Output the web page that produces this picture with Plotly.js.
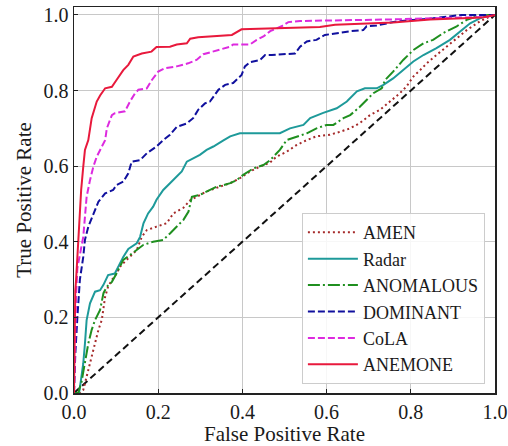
<!DOCTYPE html>
<html>
<head>
<meta charset="utf-8">
<script src="https://cdn.plot.ly/plotly-3.0.1.min.js"></script>
<style>html,body{margin:0;padding:0;background:#fff;}#chart{width:508px;height:446px;}</style>
</head>
<body>
<div id="chart"></div>
<script>
const seriesNames = ["AMEN", "Radar", "ANOMALOUS", "DOMINANT", "CoLA", "ANEMONE"];

const amenX = [0, 0.015, 0.022, 0.034, 0.042, 0.05, 0.058, 0.066, 0.07, 0.074, 0.081, 0.09, 0.101, 0.109, 0.125, 0.149, 0.161, 0.173, 0.196, 0.22, 0.236, 0.26, 0.276, 0.291, 0.315, 0.347, 0.371, 0.394, 0.418, 0.442, 0.466, 0.481, 0.505, 0.529, 0.553, 0.576, 0.608, 0.632, 0.656, 0.679, 0.703, 0.727, 0.751, 0.774, 0.79, 0.806, 0.822, 0.838, 0.861, 0.885, 0.909, 0.933, 0.964, 0.988, 1];
const amenY = [0, 0, 0.008, 0.061, 0.096, 0.131, 0.167, 0.193, 0.228, 0.255, 0.281, 0.299, 0.316, 0.334, 0.352, 0.378, 0.413, 0.431, 0.44, 0.449, 0.475, 0.49, 0.51, 0.519, 0.533, 0.546, 0.555, 0.568, 0.586, 0.599, 0.61, 0.625, 0.638, 0.656, 0.669, 0.679, 0.683, 0.691, 0.7, 0.714, 0.735, 0.749, 0.771, 0.793, 0.811, 0.837, 0.854, 0.872, 0.894, 0.916, 0.938, 0.96, 0.983, 0.996, 1];

const radarX = [0, 0.012, 0.016, 0.022, 0.026, 0.03, 0.038, 0.05, 0.062, 0.07, 0.081, 0.097, 0.101, 0.117, 0.129, 0.149, 0.157, 0.165, 0.176, 0.188, 0.196, 0.212, 0.228, 0.244, 0.256, 0.268, 0.283, 0.299, 0.315, 0.331, 0.355, 0.371, 0.394, 0.442, 0.489, 0.513, 0.545, 0.561, 0.592, 0.624, 0.648, 0.672, 0.691, 0.719, 0.735, 0.758, 0.782, 0.806, 0.83, 0.861, 0.893, 0.917, 0.941, 0.964, 0.988, 1];
const radarY = [0, 0, 0.03, 0.078, 0.131, 0.193, 0.237, 0.268, 0.272, 0.286, 0.312, 0.316, 0.325, 0.36, 0.381, 0.396, 0.413, 0.449, 0.475, 0.493, 0.511, 0.537, 0.555, 0.572, 0.586, 0.612, 0.621, 0.63, 0.643, 0.652, 0.668, 0.679, 0.687, 0.687, 0.687, 0.7, 0.709, 0.727, 0.741, 0.753, 0.771, 0.798, 0.806, 0.806, 0.815, 0.832, 0.854, 0.877, 0.894, 0.912, 0.934, 0.957, 0.978, 0.991, 1, 1];

const anomX = [0, 0.01, 0.018, 0.026, 0.034, 0.042, 0.05, 0.062, 0.066, 0.07, 0.078, 0.09, 0.101, 0.117, 0.133, 0.149, 0.165, 0.188, 0.212, 0.228, 0.244, 0.26, 0.272, 0.28, 0.299, 0.315, 0.339, 0.355, 0.371, 0.386, 0.402, 0.426, 0.45, 0.466, 0.489, 0.505, 0.529, 0.553, 0.576, 0.6, 0.616, 0.64, 0.656, 0.679, 0.695, 0.711, 0.731, 0.739, 0.758, 0.782, 0.806, 0.83, 0.853, 0.877, 0.909, 0.933, 0.957, 0.985, 1];
const anomY = [0, 0, 0.03, 0.087, 0.131, 0.167, 0.193, 0.22, 0.246, 0.264, 0.281, 0.294, 0.316, 0.352, 0.365, 0.378, 0.392, 0.4, 0.405, 0.422, 0.44, 0.458, 0.48, 0.519, 0.524, 0.533, 0.546, 0.55, 0.555, 0.563, 0.577, 0.594, 0.603, 0.616, 0.643, 0.669, 0.679, 0.687, 0.7, 0.709, 0.709, 0.727, 0.735, 0.757, 0.775, 0.793, 0.806, 0.828, 0.85, 0.881, 0.907, 0.925, 0.934, 0.952, 0.97, 0.987, 0.996, 1, 1];

const domX = [0, 0.003, 0.008, 0.014, 0.022, 0.026, 0.034, 0.046, 0.058, 0.074, 0.093, 0.101, 0.117, 0.129, 0.137, 0.157, 0.173, 0.196, 0.212, 0.228, 0.244, 0.268, 0.283, 0.295, 0.311, 0.323, 0.343, 0.359, 0.378, 0.398, 0.406, 0.418, 0.442, 0.454, 0.47, 0.525, 0.537, 0.553, 0.576, 0.596, 0.624, 0.656, 0.687, 0.695, 0.719, 0.743, 0.766, 0.853, 0.921, 1];
const domY = [0, 0.1, 0.2, 0.3, 0.36, 0.405, 0.44, 0.475, 0.506, 0.528, 0.537, 0.55, 0.559, 0.581, 0.612, 0.616, 0.634, 0.652, 0.669, 0.683, 0.704, 0.713, 0.727, 0.749, 0.766, 0.771, 0.802, 0.815, 0.82, 0.841, 0.864, 0.875, 0.881, 0.894, 0.894, 0.898, 0.916, 0.93, 0.934, 0.947, 0.952, 0.957, 0.96, 0.97, 0.972, 0.978, 0.983, 0.991, 1, 1];

const colaX = [0, 0.003, 0.005, 0.008, 0.017, 0.022, 0.026, 0.03, 0.038, 0.046, 0.054, 0.066, 0.074, 0.078, 0.09, 0.097, 0.121, 0.133, 0.145, 0.153, 0.173, 0.185, 0.2, 0.216, 0.244, 0.271, 0.291, 0.307, 0.339, 0.371, 0.378, 0.418, 0.434, 0.45, 0.466, 0.493, 0.509, 0.537, 0.75, 0.98, 1];
const colaY = [0, 0.2, 0.26, 0.33, 0.378, 0.413, 0.466, 0.519, 0.563, 0.599, 0.625, 0.652, 0.669, 0.7, 0.735, 0.74, 0.745, 0.771, 0.793, 0.802, 0.806, 0.828, 0.85, 0.859, 0.864, 0.872, 0.881, 0.896, 0.907, 0.916, 0.922, 0.922, 0.934, 0.943, 0.957, 0.97, 0.981, 0.984, 0.988, 0.995, 1];

const anemX = [0, 0.001, 0.003, 0.005, 0.008, 0.013, 0.017, 0.022, 0.026, 0.034, 0.042, 0.054, 0.062, 0.074, 0.09, 0.101, 0.117, 0.129, 0.141, 0.161, 0.184, 0.196, 0.228, 0.244, 0.268, 0.276, 0.295, 0.375, 0.398, 0.584, 0.62, 0.758, 0.846, 0.97, 1];
const anemY = [0, 0.2, 0.27, 0.3, 0.36, 0.449, 0.537, 0.599, 0.643, 0.669, 0.727, 0.771, 0.787, 0.806, 0.81, 0.828, 0.854, 0.868, 0.89, 0.898, 0.903, 0.915, 0.916, 0.922, 0.925, 0.937, 0.941, 0.947, 0.962, 0.968, 0.974, 0.98, 0.988, 0.993, 1];

const chanceX = [0, 1];
const chanceY = [0, 1];

const tickVals = [0, 0.2, 0.4, 0.6, 0.8, 1.0];
const tickText = ["0.0", "0.2", "0.4", "0.6", "0.8", "1.0"];

const xs = [amenX, radarX, anomX, domX, colaX, anemX];
const ys = [amenY, radarY, anomY, domY, colaY, anemY];
const colors = ["#a52a2a", "#1e9a9a", "#1f8f1f", "#10109e", "#dd2adf", "#e8193c"];
const dashes = ["2px,3px", "solid", "12px,3px,2px,3px", "7px,3px", "7px,3px", "solid"];

const traces = [{
  x: chanceX, y: chanceY, mode: "lines", showlegend: false,
  line: {color: "#111", width: 2, dash: "7px,4px"}, hoverinfo: "skip"
}];
for (let i = 0; i < seriesNames.length; i++) {
  traces.push({
    x: xs[i], y: ys[i], name: seriesNames[i], mode: "lines",
    line: {color: colors[i], width: 2, dash: dashes[i]}
  });
}

const TXT = "#1a1a1a";
const layout = {
  width: 508, height: 446,
  margin: {l: 74, r: 13, t: 7, b: 53},
  font: {family: "Times New Roman", size: 20, color: TXT},
  showlegend: true,
  xaxis: {
    range: [0, 1], tickvals: tickVals, ticktext: tickText,
    showgrid: true, gridcolor: "#c8c8c8", gridwidth: 1,
    zeroline: false, showline: true, linecolor: "#222", linewidth: 1.5, mirror: true,
    ticks: "inside", ticklen: 4, tickcolor: "#222",
    tickfont: {family: "Times New Roman", size: 20, color: TXT},
    title: {text: "False Positive Rate", font: {family: "Times New Roman", size: 21, color: TXT}, standoff: 2}
  },
  yaxis: {
    range: [0, 1.021], tickvals: tickVals, ticktext: tickText,
    showgrid: true, gridcolor: "#c8c8c8", gridwidth: 1,
    zeroline: false, showline: true, linecolor: "#222", linewidth: 1.5, mirror: true,
    ticks: "inside", ticklen: 4, tickcolor: "#222",
    tickfont: {family: "Times New Roman", size: 20, color: TXT},
    title: {text: "True Positive Rate", font: {family: "Times New Roman", size: 21, color: TXT}, standoff: 6}
  },
  legend: {
    x: 0.976, y: 0.466, xanchor: "right", yanchor: "top",
    bgcolor: "rgba(255,255,255,0.85)", bordercolor: "#cccccc", borderwidth: 1,
    font: {family: "Times New Roman", size: 18, color: TXT},
    tracegroupgap: 0, itemwidth: 50
  }
};

Plotly.newPlot("chart", traces, layout, {displayModeBar: false, staticPlot: true});
</script>
</body>
</html>
